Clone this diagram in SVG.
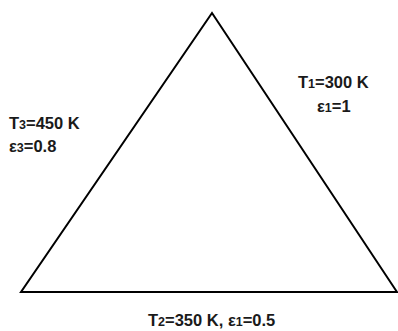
<svg xmlns="http://www.w3.org/2000/svg" width="398" height="331" viewBox="0 0 398 331">
<style>
.lbl{font-family:"Liberation Sans",Arial,sans-serif;font-weight:bold;font-size:16.5px;fill:#1a1a1a}
.sub{font-size:12.5px}
</style>
<rect width="398" height="331" fill="#fff"/>
<g id="connectors">
<polygon points="212,13 397,292 21,292" fill="none" stroke="#000" stroke-width="2" stroke-linejoin="miter"/>
</g>
<g id="label-t1">
<text class="lbl" x="298" y="88">T<tspan class="sub">1</tspan>=300 K</text>
<text class="lbl" x="317" y="112">ε<tspan class="sub">1</tspan>=1</text>
</g>
<g id="label-t3">
<text class="lbl" x="9" y="129">T<tspan class="sub">3</tspan>=450 K</text>
<text class="lbl" x="9" y="152">ε<tspan class="sub">3</tspan>=0.8</text>
</g>
<g id="label-t2">
<text class="lbl" x="148" y="326">T<tspan class="sub">2</tspan>=350 K, ε<tspan class="sub">1</tspan>=0.5</text>
</g>
</svg>
